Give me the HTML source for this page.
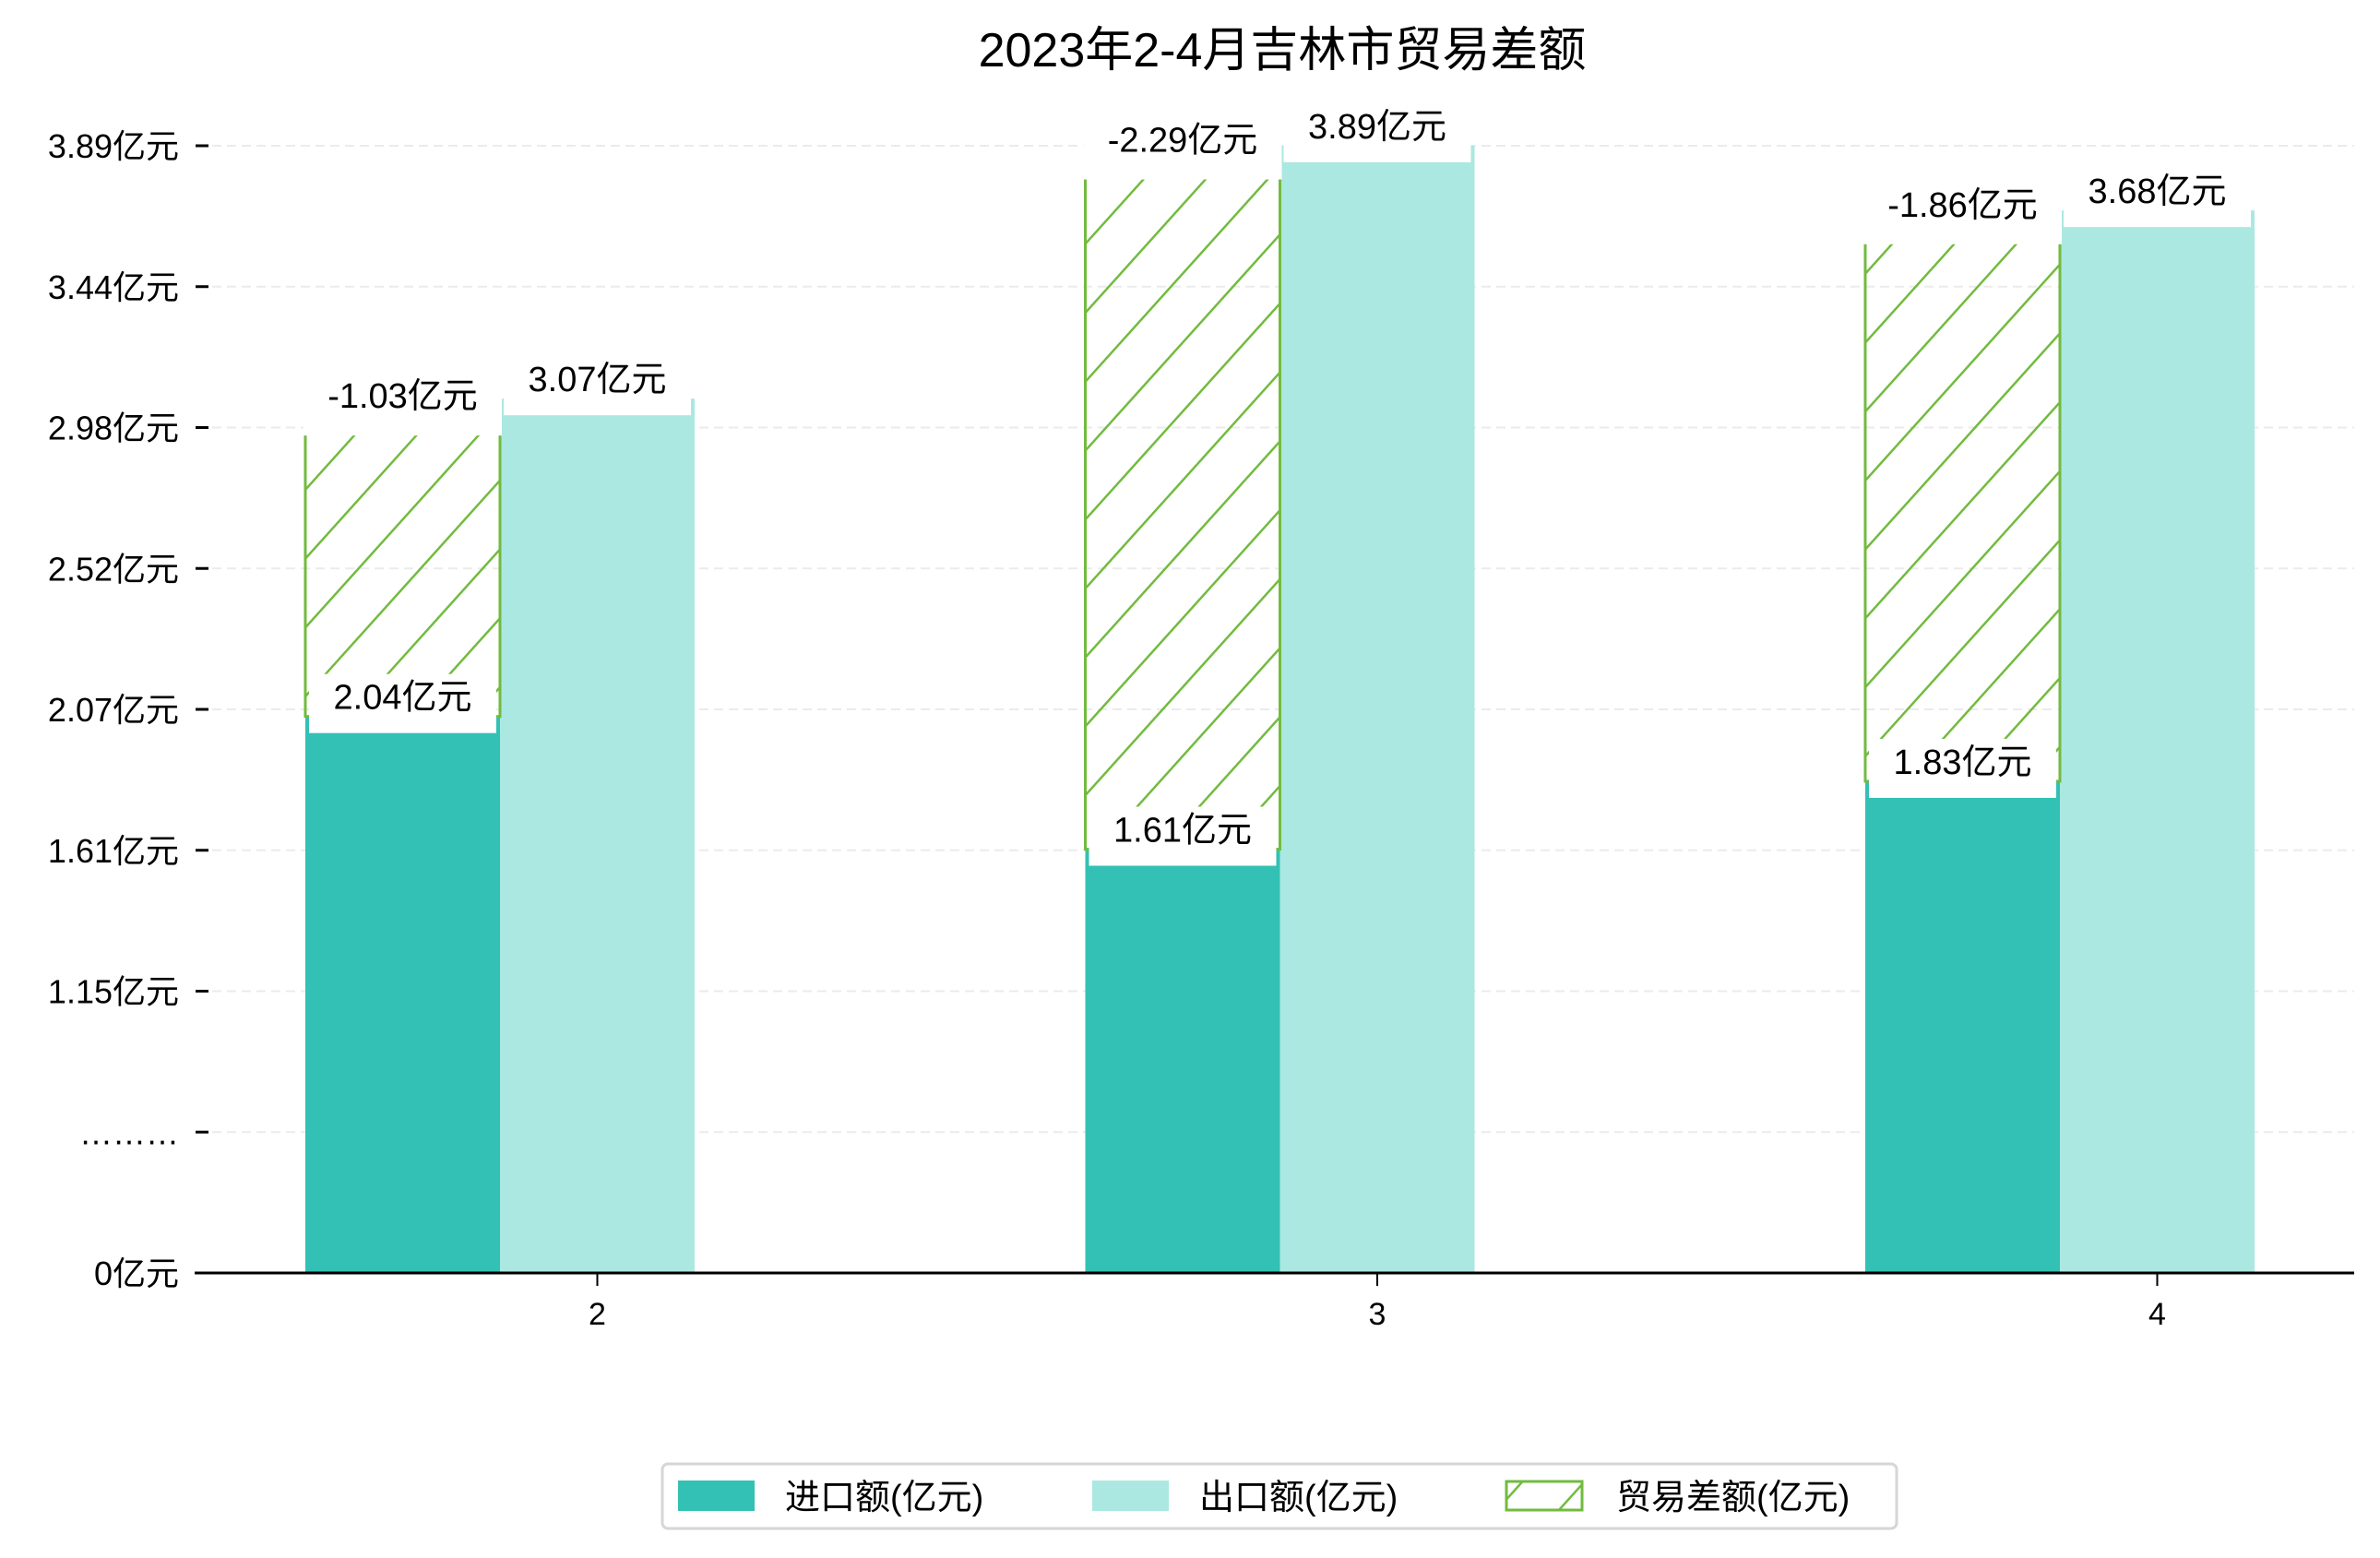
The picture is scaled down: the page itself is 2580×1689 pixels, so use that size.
<!DOCTYPE html>
<html><head><meta charset="utf-8">
<style>
html,body{margin:0;padding:0;background:#fff;}
svg{display:block;}
text{font-family:"Liberation Sans","Noto Sans CJK SC",sans-serif;fill:#000;}
</style></head>
<body>
<svg id="chart" width="2580" height="1689" viewBox="0 0 2580 1689" xmlns="http://www.w3.org/2000/svg">
<defs>
<pattern id="hatch" patternUnits="userSpaceOnUse" width="50" height="50" patternTransform="rotate(42)">
<line x1="0" y1="0" x2="0" y2="50" stroke="#72bb3f" stroke-width="5"/>
</pattern>
</defs>
<text x="1390" y="72" font-size="52" text-anchor="middle">2023年2-4月吉林市贸易差额</text>
<g id="grid"></g>
<g id="bars"></g>
<g id="labels"></g>
<line x1="211" y1="1380" x2="2552" y2="1380" stroke="#000" stroke-width="3"/>
<g id="xticks"></g>
<g id="legend">
<rect x="718" y="1587" width="1338" height="70" rx="6" fill="#fff" stroke="#d6d6d6" stroke-width="3"/>
<g>
<rect x="735" y="1605" width="83" height="33" fill="#32c1b4"/>
<text x="851" y="1636" font-size="38">进口额(亿元)</text>
</g>
<g>
<rect x="1184" y="1605" width="83" height="33" fill="#abe8e1"/>
<text x="1300" y="1636" font-size="38">出口额(亿元)</text>
</g>
<g>
<rect x="1633" y="1606" width="82" height="31" fill="url(#hatch)" stroke="#72bb3f" stroke-width="3"/>
<text x="1752" y="1636" font-size="38">贸易差额(亿元)</text>
</g>
</g>
</svg>
<script>
const months = ["2", "3", "4"];
const imports = [2.04, 1.61, 1.83];
const exports_ = [3.07, 3.89, 3.68];
const balances = [-1.03, -2.29, -1.86];
const tickLabels = ["0亿元", "………", "1.15亿元", "1.61亿元", "2.07亿元", "2.52亿元", "2.98亿元", "3.44亿元", "3.89亿元"];
const tickValues = [0, 0.693, 1.15, 1.61, 2.07, 2.52, 2.98, 3.44, 3.89];

const NS = "http://www.w3.org/2000/svg";
const baseY = 1380, step = 152.75;
function yScale(v) {
  if (v <= tickValues[1]) return baseY - (v / tickValues[1]) * step;
  const per = (tickValues[8] - tickValues[2]) / 6;
  return baseY - (1 + (v - tickValues[1]) / per) * step;
}
function groupX(i) { return 331 + i * 845.5; }
const bw = 211;
function mk(tag, attrs, parent) {
  const e = document.createElementNS(NS, tag);
  for (const k in attrs) e.setAttribute(k, attrs[k]);
  parent.appendChild(e);
  return e;
}
const grid = document.getElementById("grid");
tickLabels.forEach((t, i) => {
  const y = baseY - i * step;
  if (i > 0) {
    const g = mk("line", {x1: 230, y1: y, x2: 2552, y2: y, stroke: "#ebebeb", "stroke-width": 2, "stroke-dasharray": "10 6"}, grid);
    
    
  }
  const tk = mk("line", {x1: 212, y1: y, x2: 226, y2: y, stroke: "#000", "stroke-width": 3}, grid);
  
  
  const lb = mk("text", {x: 194, y: y + 13, "font-size": 36, "text-anchor": "end"}, grid);
  lb.textContent = t;
  
  
});
const bars = document.getElementById("bars");
const labels = document.getElementById("labels");
function label(cx, top, txt, isDiff, w) {
  const by = isDiff ? top - 24 : top - 46;
  const r = mk("rect", {x: cx - w / 2, y: by, width: w, height: 64, fill: "#fff"}, labels);
  
  
  const t = mk("text", {x: cx, y: isDiff ? top + 10 : top - 8, "font-size": 38, "text-anchor": "middle"}, labels);
  t.textContent = txt;
  
  
}
months.forEach((m, i) => {
  const x0 = groupX(i);
  const yi = yScale(imports[i]);
  const ye = yScale(exports_[i]);
  const yd = yScale(imports[i] + Math.abs(balances[i]));
  const bi = mk("rect", {x: x0, y: yi, width: bw, height: baseY - yi, fill: "#32c1b4"}, bars);
  
  
  const be = mk("rect", {x: x0 + bw, y: ye, width: bw, height: baseY - ye, fill: "#abe8e1"}, bars);
  
  
  const bd = mk("rect", {x: x0, y: yd, width: bw, height: yi - yd, fill: "url(#hatch)", stroke: "#72bb3f", "stroke-width": 3}, bars);
  
  
  label(x0 + bw / 2, yd, balances[i].toFixed(2) + "亿元", true, bw + 4);
  label(x0 + bw / 2, yi, imports[i].toFixed(2) + "亿元", false, bw - 8);
  label(x0 + bw * 1.5, ye, exports_[i].toFixed(2) + "亿元", false, bw - 8);
  const xt = document.getElementById("xticks");
  const cx = x0 + bw * 1.5;
  const tl = mk("line", {x1: cx, y1: 1380, x2: cx, y2: 1394, stroke: "#000", "stroke-width": 2}, xt);
  
  
  const tt = mk("text", {x: cx, y: 1436, "font-size": 34, "text-anchor": "middle"}, xt);
  tt.textContent = m;
  
  
});
</script>
</body></html>
